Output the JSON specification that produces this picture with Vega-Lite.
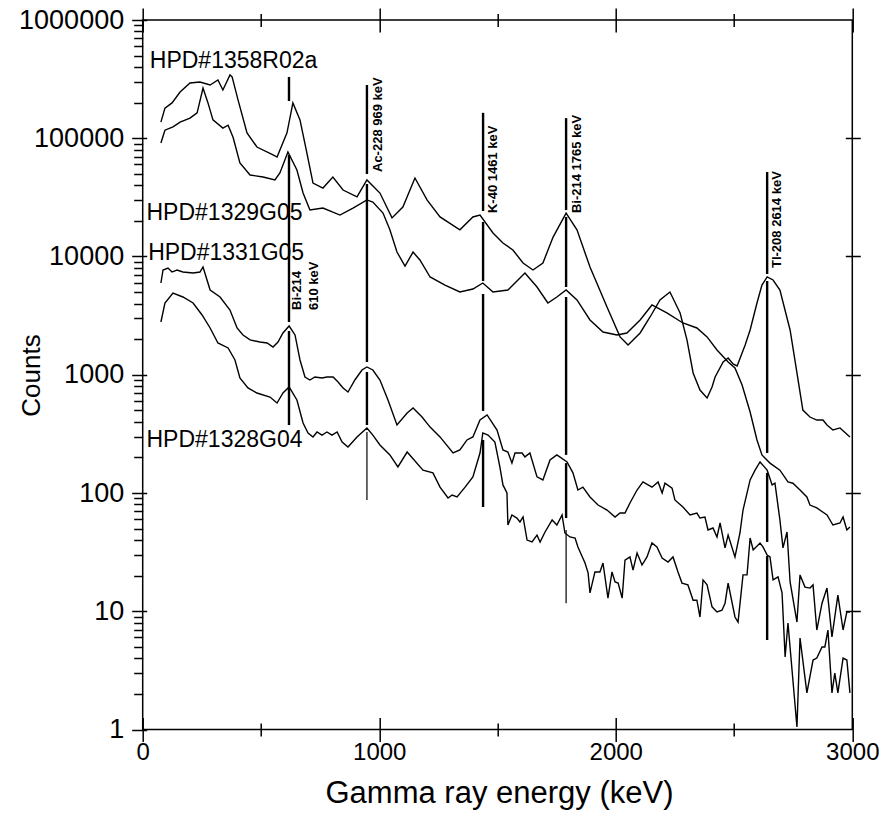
{
  "$schema": "https://vega.github.io/schema/vega-lite/v6.json",
  "width": 709.6,
  "height": 709.5,
  "autosize": {"type": "none"},
  "padding": {"left": 142.7, "top": 20, "right": 40.7, "bottom": 87.5},
  "background": "white",
  "config": {
    "view": {"stroke": "black", "strokeWidth": 1.5},
    "axis": {"domain": false, "grid": false, "tickColor": "black", "tickWidth": 1.5, "labelColor": "black", "titleColor": "black", "labelFlush": false, "labelOverlap": false}
  },
  "datasets": {
    "spectra": [
      {"series":"HPD#1358R02a","energy":77,"counts":137000},{"series":"HPD#1358R02a","energy":94,"counts":180000},{"series":"HPD#1358R02a","energy":124,"counts":199000},{"series":"HPD#1358R02a","energy":158,"counts":246000},{"series":"HPD#1358R02a","energy":200,"counts":293000},{"series":"HPD#1358R02a","energy":242,"counts":299000},{"series":"HPD#1358R02a","energy":285,"counts":282000},{"series":"HPD#1358R02a","energy":318,"counts":311000},{"series":"HPD#1358R02a","energy":339,"counts":256000},{"series":"HPD#1358R02a","energy":369,"counts":343000},{"series":"HPD#1358R02a","energy":378,"counts":330000},{"series":"HPD#1358R02a","energy":403,"counts":211000},{"series":"HPD#1358R02a","energy":441,"counts":111000},{"series":"HPD#1358R02a","energy":483,"counts":84300},{"series":"HPD#1358R02a","energy":551,"counts":72200},{"series":"HPD#1358R02a","energy":568,"counts":69400},{"series":"HPD#1358R02a","energy":610,"counts":111000},{"series":"HPD#1358R02a","energy":635,"counts":199000},{"series":"HPD#1358R02a","energy":665,"counts":143000},{"series":"HPD#1358R02a","energy":694,"counts":75100},{"series":"HPD#1358R02a","energy":720,"counts":41800},{"series":"HPD#1358R02a","energy":762,"counts":37900},{"series":"HPD#1358R02a","energy":804,"counts":47000},{"series":"HPD#1358R02a","energy":847,"counts":36500},{"series":"HPD#1358R02a","energy":906,"counts":31900},{"series":"HPD#1358R02a","energy":948,"counts":44400},{"series":"HPD#1358R02a","energy":1003,"counts":34400},{"series":"HPD#1358R02a","energy":1054,"counts":21200},{"series":"HPD#1358R02a","energy":1100,"counts":26200},{"series":"HPD#1358R02a","energy":1151,"counts":46100},{"series":"HPD#1358R02a","energy":1202,"counts":30100},{"series":"HPD#1358R02a","energy":1257,"counts":21600},{"series":"HPD#1358R02a","energy":1341,"counts":16800},{"series":"HPD#1358R02a","energy":1396,"counts":21600},{"series":"HPD#1358R02a","energy":1426,"counts":22400},{"series":"HPD#1358R02a","energy":1481,"counts":15800},{"series":"HPD#1358R02a","energy":1523,"counts":13000},{"series":"HPD#1358R02a","energy":1565,"counts":11350},{"series":"HPD#1358R02a","energy":1608,"counts":8810},{"series":"HPD#1358R02a","energy":1650,"counts":7690},{"series":"HPD#1358R02a","energy":1692,"counts":8810},{"series":"HPD#1358R02a","energy":1735,"counts":14600},{"series":"HPD#1358R02a","energy":1790,"counts":23300},{"series":"HPD#1358R02a","energy":1836,"counts":16800},{"series":"HPD#1358R02a","energy":1891,"counts":8150},{"series":"HPD#1358R02a","energy":1963,"counts":3740},{"series":"HPD#1358R02a","energy":2018,"counts":2090},{"series":"HPD#1358R02a","energy":2052,"counts":1785},{"series":"HPD#1358R02a","energy":2103,"counts":2255},{"series":"HPD#1358R02a","energy":2145,"counts":3080},{"series":"HPD#1358R02a","energy":2187,"counts":4290},{"series":"HPD#1358R02a","energy":2229,"counts":5010},{"series":"HPD#1358R02a","energy":2272,"counts":3330},{"series":"HPD#1358R02a","energy":2301,"counts":1970},{"series":"HPD#1358R02a","energy":2327,"counts":1035},{"series":"HPD#1358R02a","energy":2356,"counts":743},{"series":"HPD#1358R02a","energy":2386,"counts":636},{"series":"HPD#1358R02a","energy":2407,"counts":788},{"series":"HPD#1358R02a","energy":2420,"counts":957},{"series":"HPD#1358R02a","energy":2454,"counts":1282},{"series":"HPD#1358R02a","energy":2475,"counts":1386},{"series":"HPD#1358R02a","energy":2496,"counts":1233},{"series":"HPD#1358R02a","energy":2513,"counts":1186},{"series":"HPD#1358R02a","energy":2547,"counts":1785},{"series":"HPD#1358R02a","energy":2568,"counts":2390},{"series":"HPD#1358R02a","energy":2597,"counts":4045},{"series":"HPD#1358R02a","energy":2618,"counts":5740},{"series":"HPD#1358R02a","energy":2640,"counts":6710},{"series":"HPD#1358R02a","energy":2665,"counts":6330},{"series":"HPD#1358R02a","energy":2694,"counts":5210},{"series":"HPD#1358R02a","energy":2737,"counts":2390},{"series":"HPD#1358R02a","energy":2766,"counts":1035},{"series":"HPD#1358R02a","energy":2791,"counts":503},{"series":"HPD#1358R02a","energy":2821,"counts":439},{"series":"HPD#1358R02a","energy":2850,"counts":414},{"series":"HPD#1358R02a","energy":2876,"counts":414},{"series":"HPD#1358R02a","energy":2893,"counts":376},{"series":"HPD#1358R02a","energy":2918,"counts":341},{"series":"HPD#1358R02a","energy":2948,"counts":355},{"series":"HPD#1358R02a","energy":2990,"counts":298},
      {"series":"HPD#1329G05","energy":77,"counts":91200},{"series":"HPD#1329G05","energy":94,"counts":117000},{"series":"HPD#1329G05","energy":115,"counts":122000},{"series":"HPD#1329G05","energy":128,"counts":125000},{"series":"HPD#1329G05","energy":158,"counts":137000},{"series":"HPD#1329G05","energy":200,"counts":148000},{"series":"HPD#1329G05","energy":230,"counts":164000},{"series":"HPD#1329G05","energy":255,"counts":266000},{"series":"HPD#1329G05","energy":276,"counts":199000},{"series":"HPD#1329G05","energy":297,"counts":143000},{"series":"HPD#1329G05","energy":339,"counts":122000},{"series":"HPD#1329G05","energy":361,"counts":129000},{"series":"HPD#1329G05","energy":382,"counts":102000},{"series":"HPD#1329G05","energy":411,"counts":61800},{"series":"HPD#1329G05","energy":454,"counts":48900},{"series":"HPD#1329G05","energy":509,"counts":47000},{"series":"HPD#1329G05","energy":559,"counts":44400},{"series":"HPD#1329G05","energy":580,"counts":50800},{"series":"HPD#1329G05","energy":614,"counts":76500},{"series":"HPD#1329G05","energy":652,"counts":53900},{"series":"HPD#1329G05","energy":678,"counts":34400},{"series":"HPD#1329G05","energy":707,"counts":24700},{"series":"HPD#1329G05","energy":762,"counts":25700},{"series":"HPD#1329G05","energy":834,"counts":22400},{"series":"HPD#1329G05","energy":889,"counts":25700},{"series":"HPD#1329G05","energy":948,"counts":30100},{"series":"HPD#1329G05","energy":973,"counts":28900},{"series":"HPD#1329G05","energy":1016,"counts":23300},{"series":"HPD#1329G05","energy":1045,"counts":16800},{"series":"HPD#1329G05","energy":1075,"counts":10900},{"series":"HPD#1329G05","energy":1109,"counts":8310},{"series":"HPD#1329G05","energy":1143,"counts":10900},{"series":"HPD#1329G05","energy":1172,"counts":9340},{"series":"HPD#1329G05","energy":1215,"counts":6710},{"series":"HPD#1329G05","energy":1278,"counts":5740},{"series":"HPD#1329G05","energy":1341,"counts":5010},{"series":"HPD#1329G05","energy":1396,"counts":5310},{"series":"HPD#1329G05","energy":1438,"counts":5970},{"series":"HPD#1329G05","energy":1481,"counts":5010},{"series":"HPD#1329G05","energy":1544,"counts":5210},{"series":"HPD#1329G05","energy":1616,"counts":7250},{"series":"HPD#1329G05","energy":1667,"counts":5520},{"series":"HPD#1329G05","energy":1713,"counts":4045},{"series":"HPD#1329G05","energy":1751,"counts":4545},{"series":"HPD#1329G05","energy":1790,"counts":5210},{"series":"HPD#1329G05","energy":1836,"counts":4290},{"series":"HPD#1329G05","energy":1891,"counts":2904},{"series":"HPD#1329G05","energy":1946,"counts":2298},{"series":"HPD#1329G05","energy":2005,"counts":2170},{"series":"HPD#1329G05","energy":2047,"counts":2255},{"series":"HPD#1329G05","energy":2103,"counts":2904},{"series":"HPD#1329G05","energy":2153,"counts":3890},{"series":"HPD#1329G05","energy":2216,"counts":3330},{"series":"HPD#1329G05","energy":2284,"counts":2740},{"series":"HPD#1329G05","energy":2343,"counts":2486},{"series":"HPD#1329G05","energy":2386,"counts":2090},{"series":"HPD#1329G05","energy":2428,"counts":1619},{"series":"HPD#1329G05","energy":2475,"counts":1282},{"series":"HPD#1329G05","energy":2504,"counts":1140},{"series":"HPD#1329G05","energy":2534,"counts":819},{"series":"HPD#1329G05","energy":2568,"counts":484},{"series":"HPD#1329G05","energy":2597,"counts":281},{"series":"HPD#1329G05","energy":2618,"counts":210},{"series":"HPD#1329G05","energy":2652,"counts":179},{"series":"HPD#1329G05","energy":2694,"counts":156},{"series":"HPD#1329G05","energy":2728,"counts":124},{"series":"HPD#1329G05","energy":2749,"counts":121},{"series":"HPD#1329G05","energy":2779,"counts":106},{"series":"HPD#1329G05","energy":2808,"counts":92.5},{"series":"HPD#1329G05","energy":2821,"counts":79.1},{"series":"HPD#1329G05","energy":2850,"counts":74.7},{"series":"HPD#1329G05","energy":2893,"counts":65.2},{"series":"HPD#1329G05","energy":2918,"counts":53.6},{"series":"HPD#1329G05","energy":2948,"counts":55.8},{"series":"HPD#1329G05","energy":2961,"counts":62.7},{"series":"HPD#1329G05","energy":2977,"counts":48.7},{"series":"HPD#1329G05","energy":2990,"counts":51.6},
      {"series":"HPD#1331G05","energy":77,"counts":5970},{"series":"HPD#1331G05","energy":86,"counts":7690},{"series":"HPD#1331G05","energy":107,"counts":7990},{"series":"HPD#1331G05","energy":124,"counts":7390},{"series":"HPD#1331G05","energy":145,"counts":7690},{"series":"HPD#1331G05","energy":170,"counts":7390},{"series":"HPD#1331G05","energy":213,"counts":7250},{"series":"HPD#1331G05","energy":242,"counts":7390},{"series":"HPD#1331G05","energy":255,"counts":8150},{"series":"HPD#1331G05","energy":285,"counts":5210},{"series":"HPD#1331G05","energy":327,"counts":4545},{"series":"HPD#1331G05","energy":369,"counts":3530},{"series":"HPD#1331G05","energy":399,"counts":2486},{"series":"HPD#1331G05","energy":424,"counts":2170},{"series":"HPD#1331G05","energy":454,"counts":1970},{"series":"HPD#1331G05","energy":496,"counts":1892},{"series":"HPD#1331G05","energy":526,"counts":1856},{"series":"HPD#1331G05","energy":551,"counts":1717},{"series":"HPD#1331G05","energy":572,"counts":1892},{"series":"HPD#1331G05","energy":593,"counts":2255},{"series":"HPD#1331G05","energy":619,"counts":2584},{"series":"HPD#1331G05","energy":644,"counts":2170},{"series":"HPD#1331G05","energy":665,"counts":1333},{"series":"HPD#1331G05","energy":686,"counts":957},{"series":"HPD#1331G05","energy":707,"counts":903},{"series":"HPD#1331G05","energy":728,"counts":957},{"series":"HPD#1331G05","energy":758,"counts":939},{"series":"HPD#1331G05","energy":779,"counts":957},{"series":"HPD#1331G05","energy":805,"counts":957},{"series":"HPD#1331G05","energy":826,"counts":868},{"series":"HPD#1331G05","energy":847,"counts":773},{"series":"HPD#1331G05","energy":868,"counts":715},{"series":"HPD#1331G05","energy":897,"counts":903},{"series":"HPD#1331G05","energy":927,"counts":1097},{"series":"HPD#1331G05","energy":948,"counts":1163},{"series":"HPD#1331G05","energy":973,"counts":1097},{"series":"HPD#1331G05","energy":1003,"counts":903},{"series":"HPD#1331G05","energy":1037,"counts":612},{"series":"HPD#1331G05","energy":1075,"counts":376},{"series":"HPD#1331G05","energy":1118,"counts":475},{"series":"HPD#1331G05","energy":1143,"counts":523},{"series":"HPD#1331G05","energy":1181,"counts":439},{"series":"HPD#1331G05","energy":1215,"counts":361},{"series":"HPD#1331G05","energy":1257,"counts":298},{"series":"HPD#1331G05","energy":1312,"counts":218},{"series":"HPD#1331G05","energy":1341,"counts":231},{"series":"HPD#1331G05","energy":1371,"counts":281},{"series":"HPD#1331G05","energy":1396,"counts":298},{"series":"HPD#1331G05","energy":1426,"counts":414},{"series":"HPD#1331G05","energy":1456,"counts":457},{"series":"HPD#1331G05","energy":1498,"counts":341},{"series":"HPD#1331G05","energy":1523,"counts":231},{"series":"HPD#1331G05","energy":1544,"counts":222},{"series":"HPD#1331G05","energy":1561,"counts":179},{"series":"HPD#1331G05","energy":1574,"counts":218},{"series":"HPD#1331G05","energy":1604,"counts":218},{"series":"HPD#1331G05","energy":1616,"counts":202},{"series":"HPD#1331G05","energy":1637,"counts":218},{"series":"HPD#1331G05","energy":1667,"counts":137},{"series":"HPD#1331G05","energy":1692,"counts":129},{"series":"HPD#1331G05","energy":1722,"counts":190},{"series":"HPD#1331G05","energy":1751,"counts":210},{"series":"HPD#1331G05","energy":1794,"counts":183},{"series":"HPD#1331G05","energy":1819,"counts":148},{"series":"HPD#1331G05","energy":1840,"counts":106},{"series":"HPD#1331G05","energy":1861,"counts":112},{"series":"HPD#1331G05","energy":1891,"counts":92.5},{"series":"HPD#1331G05","energy":1925,"counts":79.1},{"series":"HPD#1331G05","energy":1963,"counts":71.8},{"series":"HPD#1331G05","energy":1997,"counts":62.7},{"series":"HPD#1331G05","energy":2018,"counts":67.7},{"series":"HPD#1331G05","energy":2039,"counts":67.7},{"series":"HPD#1331G05","energy":2060,"counts":82.3},{"series":"HPD#1331G05","energy":2090,"counts":106},{"series":"HPD#1331G05","energy":2115,"counts":124},{"series":"HPD#1331G05","energy":2153,"counts":112},{"series":"HPD#1331G05","energy":2179,"counts":124},{"series":"HPD#1331G05","energy":2196,"counts":100},{"series":"HPD#1331G05","energy":2208,"counts":121},{"series":"HPD#1331G05","energy":2238,"counts":110},{"series":"HPD#1331G05","energy":2250,"counts":87.3},{"series":"HPD#1331G05","energy":2284,"counts":76.1},{"series":"HPD#1331G05","energy":2314,"counts":65.2},{"series":"HPD#1331G05","energy":2343,"counts":67.7},{"series":"HPD#1331G05","energy":2356,"counts":61.4},{"series":"HPD#1331G05","energy":2377,"counts":62.7},{"series":"HPD#1331G05","energy":2390,"counts":48.7},{"series":"HPD#1331G05","energy":2411,"counts":50.6},{"series":"HPD#1331G05","energy":2428,"counts":42.5},{"series":"HPD#1331G05","energy":2441,"counts":55.8},{"series":"HPD#1331G05","energy":2462,"counts":34.3},{"series":"HPD#1331G05","energy":2475,"counts":44.1},{"series":"HPD#1331G05","energy":2504,"counts":28.8},{"series":"HPD#1331G05","energy":2525,"counts":45.9},{"series":"HPD#1331G05","energy":2538,"counts":71.8},{"series":"HPD#1331G05","energy":2568,"counts":129},{"series":"HPD#1331G05","energy":2589,"counts":156},{"series":"HPD#1331G05","energy":2610,"counts":183},{"series":"HPD#1331G05","energy":2640,"counts":156},{"series":"HPD#1331G05","energy":2661,"counts":117},{"series":"HPD#1331G05","energy":2673,"counts":121},{"series":"HPD#1331G05","energy":2694,"counts":59.1},{"series":"HPD#1331G05","energy":2707,"counts":34.3},{"series":"HPD#1331G05","energy":2724,"counts":46.8},{"series":"HPD#1331G05","energy":2737,"counts":17.7},{"series":"HPD#1331G05","energy":2766,"counts":8.11},{"series":"HPD#1331G05","energy":2779,"counts":20.3},{"series":"HPD#1331G05","energy":2800,"counts":16.0},{"series":"HPD#1331G05","energy":2821,"counts":15.7},{"series":"HPD#1331G05","energy":2834,"counts":16.7},{"series":"HPD#1331G05","energy":2850,"counts":6.94},{"series":"HPD#1331G05","energy":2872,"counts":11.7},{"series":"HPD#1331G05","energy":2893,"counts":15.7},{"series":"HPD#1331G05","energy":2914,"counts":6.06},{"series":"HPD#1331G05","energy":2939,"counts":13.7},{"series":"HPD#1331G05","energy":2961,"counts":6.94},{"series":"HPD#1331G05","energy":2977,"counts":9.86},{"series":"HPD#1331G05","energy":2990,"counts":9.86},
      {"series":"HPD#1328G04","energy":77,"counts":2793},{"series":"HPD#1328G04","energy":94,"counts":4045},{"series":"HPD#1328G04","energy":128,"counts":4913},{"series":"HPD#1328G04","energy":170,"counts":4545},{"series":"HPD#1328G04","energy":213,"counts":4045},{"series":"HPD#1328G04","energy":251,"counts":3203},{"series":"HPD#1328G04","energy":285,"counts":2486},{"series":"HPD#1328G04","energy":318,"counts":1856},{"series":"HPD#1328G04","energy":361,"counts":1684},{"series":"HPD#1328G04","energy":390,"counts":1333},{"series":"HPD#1328G04","energy":411,"counts":939},{"series":"HPD#1328G04","energy":445,"counts":773},{"series":"HPD#1328G04","energy":483,"counts":701},{"series":"HPD#1328G04","energy":538,"counts":648},{"series":"HPD#1328G04","energy":568,"counts":577},{"series":"HPD#1328G04","energy":593,"counts":701},{"series":"HPD#1328G04","energy":619,"counts":788},{"series":"HPD#1328G04","energy":652,"counts":612},{"series":"HPD#1328G04","energy":678,"counts":391},{"series":"HPD#1328G04","energy":699,"counts":322},{"series":"HPD#1328G04","energy":720,"counts":298},{"series":"HPD#1328G04","energy":737,"counts":328},{"series":"HPD#1328G04","energy":758,"counts":309},{"series":"HPD#1328G04","energy":779,"counts":328},{"series":"HPD#1328G04","energy":800,"counts":309},{"series":"HPD#1328G04","energy":822,"counts":328},{"series":"HPD#1328G04","energy":843,"counts":270},{"series":"HPD#1328G04","energy":868,"counts":245},{"series":"HPD#1328G04","energy":906,"counts":298},{"series":"HPD#1328G04","energy":948,"counts":355},{"series":"HPD#1328G04","energy":973,"counts":309},{"series":"HPD#1328G04","energy":1003,"counts":255},{"series":"HPD#1328G04","energy":1045,"counts":210},{"series":"HPD#1328G04","energy":1079,"counts":166},{"series":"HPD#1328G04","energy":1118,"counts":222},{"series":"HPD#1328G04","energy":1185,"counts":156},{"series":"HPD#1328G04","energy":1227,"counts":148},{"series":"HPD#1328G04","energy":1257,"counts":112},{"series":"HPD#1328G04","energy":1291,"counts":90.7},{"series":"HPD#1328G04","energy":1308,"counts":96.2},{"series":"HPD#1328G04","energy":1329,"counts":92.5},{"series":"HPD#1328G04","energy":1363,"counts":112},{"series":"HPD#1328G04","energy":1396,"counts":137},{"series":"HPD#1328G04","energy":1426,"counts":218},{"series":"HPD#1328G04","energy":1438,"counts":322},{"series":"HPD#1328G04","energy":1460,"counts":309},{"series":"HPD#1328G04","energy":1489,"counts":270},{"series":"HPD#1328G04","energy":1510,"counts":166},{"series":"HPD#1328G04","energy":1523,"counts":117},{"series":"HPD#1328G04","energy":1540,"counts":100},{"series":"HPD#1328G04","energy":1544,"counts":53.6},{"series":"HPD#1328G04","energy":1561,"counts":65.2},{"series":"HPD#1328G04","energy":1582,"counts":61.4},{"series":"HPD#1328G04","energy":1595,"counts":56.9},{"series":"HPD#1328G04","energy":1608,"counts":62.7},{"series":"HPD#1328G04","energy":1625,"counts":40.0},{"series":"HPD#1328G04","energy":1646,"counts":38.5},{"series":"HPD#1328G04","energy":1667,"counts":44.1},{"series":"HPD#1328G04","energy":1680,"counts":38.5},{"series":"HPD#1328G04","energy":1701,"counts":46.8},{"series":"HPD#1328G04","energy":1731,"counts":59.1},{"series":"HPD#1328G04","energy":1751,"counts":53.6},{"series":"HPD#1328G04","energy":1773,"counts":65.2},{"series":"HPD#1328G04","energy":1785,"counts":45.9},{"series":"HPD#1328G04","energy":1806,"counts":42.5},{"series":"HPD#1328G04","energy":1828,"counts":41.6},{"series":"HPD#1328G04","energy":1840,"counts":34.9},{"series":"HPD#1328G04","energy":1870,"counts":25.6},{"series":"HPD#1328G04","energy":1883,"counts":21.1},{"series":"HPD#1328G04","energy":1891,"counts":14.3},{"series":"HPD#1328G04","energy":1912,"counts":21.5},{"series":"HPD#1328G04","energy":1933,"counts":21.5},{"series":"HPD#1328G04","energy":1946,"counts":25.6},{"series":"HPD#1328G04","energy":1967,"counts":12.9},{"series":"HPD#1328G04","energy":1984,"counts":21.5},{"series":"HPD#1328G04","energy":1997,"counts":17.7},{"series":"HPD#1328G04","energy":2010,"counts":17.3},{"series":"HPD#1328G04","energy":2027,"counts":12.9},{"series":"HPD#1328G04","energy":2039,"counts":27.1},{"series":"HPD#1328G04","energy":2060,"counts":28.8},{"series":"HPD#1328G04","energy":2073,"counts":22.3},{"series":"HPD#1328G04","energy":2090,"counts":31.1},{"series":"HPD#1328G04","energy":2111,"counts":24.6},{"series":"HPD#1328G04","energy":2132,"counts":28.8},{"series":"HPD#1328G04","energy":2153,"counts":37.8},{"series":"HPD#1328G04","energy":2174,"counts":34.9},{"series":"HPD#1328G04","energy":2196,"counts":28.2},{"series":"HPD#1328G04","energy":2221,"counts":26.1},{"series":"HPD#1328G04","energy":2242,"counts":28.8},{"series":"HPD#1328G04","energy":2263,"counts":21.5},{"series":"HPD#1328G04","energy":2280,"counts":17.3},{"series":"HPD#1328G04","energy":2305,"counts":16.7},{"series":"HPD#1328G04","energy":2327,"counts":12.4},{"series":"HPD#1328G04","energy":2343,"counts":12.4},{"series":"HPD#1328G04","energy":2356,"counts":8.94},{"series":"HPD#1328G04","energy":2369,"counts":18.4},{"series":"HPD#1328G04","energy":2386,"counts":16.7},{"series":"HPD#1328G04","energy":2407,"counts":10.9},{"series":"HPD#1328G04","energy":2428,"counts":9.86},{"series":"HPD#1328G04","energy":2449,"counts":10.2},{"series":"HPD#1328G04","energy":2462,"counts":11.7},{"series":"HPD#1328G04","energy":2475,"counts":17.3},{"series":"HPD#1328G04","energy":2504,"counts":8.94},{"series":"HPD#1328G04","energy":2517,"counts":8.11},{"series":"HPD#1328G04","energy":2538,"counts":20.3},{"series":"HPD#1328G04","energy":2555,"counts":20.3},{"series":"HPD#1328G04","energy":2568,"counts":41.6},{"series":"HPD#1328G04","energy":2581,"counts":33.0},{"series":"HPD#1328G04","energy":2610,"counts":37.8},{"series":"HPD#1328G04","energy":2623,"counts":34.9},{"series":"HPD#1328G04","energy":2640,"counts":29.9},{"series":"HPD#1328G04","energy":2652,"counts":28.8},{"series":"HPD#1328G04","energy":2665,"counts":18.4},{"series":"HPD#1328G04","energy":2686,"counts":19.5},{"series":"HPD#1328G04","energy":2703,"counts":14.3},{"series":"HPD#1328G04","energy":2716,"counts":4.10},{"series":"HPD#1328G04","energy":2728,"counts":7.95},{"series":"HPD#1328G04","energy":2766,"counts":1.05},{"series":"HPD#1328G04","energy":2779,"counts":5.94},{"series":"HPD#1328G04","energy":2808,"counts":2.04},{"series":"HPD#1328G04","energy":2834,"counts":3.87},{"series":"HPD#1328G04","energy":2850,"counts":4.02},{"series":"HPD#1328G04","energy":2872,"counts":4.99},{"series":"HPD#1328G04","energy":2884,"counts":4.99},{"series":"HPD#1328G04","energy":2897,"counts":6.94},{"series":"HPD#1328G04","energy":2914,"counts":2.04},{"series":"HPD#1328G04","energy":2926,"counts":3.00},{"series":"HPD#1328G04","energy":2939,"counts":2.04},{"series":"HPD#1328G04","energy":2961,"counts":4.02},{"series":"HPD#1328G04","energy":2977,"counts":3.87},{"series":"HPD#1328G04","energy":2990,"counts":2.04}
    ],
    "markers": [
      {"peak":"Bi-214 610","energy":618.5,"top":330000,"bottom":206500},
      {"peak":"Bi-214 610","energy":618.5,"top":72200,"bottom":2793},
      {"peak":"Bi-214 610","energy":618.5,"top":2344,"bottom":376},
      {"peak":"Ac-228 969","energy":948,"top":282000,"bottom":49840},
      {"peak":"Ac-228 969","energy":948,"top":41040,"bottom":1282},
      {"peak":"Ac-228 969","energy":948,"top":1055,"bottom":376},
      {"peak":"K-40 1461","energy":1439,"top":164000,"bottom":24250},
      {"peak":"K-40 1461","energy":1439,"top":19580,"bottom":6206},
      {"peak":"K-40 1461","energy":1439,"top":4819,"bottom":494},
      {"peak":"K-40 1461","energy":1439,"top":281,"bottom":76.1},
      {"peak":"Bi-214 1765","energy":1790,"top":148000,"bottom":24700},
      {"peak":"Bi-214 1765","energy":1790,"top":21600,"bottom":5520},
      {"peak":"Bi-214 1765","energy":1790,"top":4545,"bottom":210},
      {"peak":"Bi-214 1765","energy":1790,"top":179,"bottom":61.4},
      {"peak":"Tl-208 2614","energy":2640,"top":51830,"bottom":7112},
      {"peak":"Tl-208 2614","energy":2640,"top":6206,"bottom":218},
      {"peak":"Tl-208 2614","energy":2640,"top":148,"bottom":38.5},
      {"peak":"Tl-208 2614","energy":2640,"top":29.3,"bottom":5.71}
    ],
    "markerTails": [
      {"peak":"Ac-228 969","energy":948,"top":328,"bottom":87.3},
      {"peak":"Bi-214 1765","energy":1790,"top":48.7,"bottom":11.7}
    ],
    "peakLabels": [
      {"label":"Bi-214","energy":654,"counts":3530},
      {"label":"610 keV","energy":724,"counts":3530},
      {"label":"Ac-228 969 keV","energy":995,"counts":51830},
      {"label":"K-40 1461 keV","energy":1479,"counts":23300},
      {"label":"Bi-214 1765 keV","energy":1838,"counts":23300},
      {"label":"Tl-208 2614 keV","energy":2680,"counts":7990}
    ],
    "seriesLabels": [
      {"label":"HPD#1358R02a","energy":30,"counts":390600},
      {"label":"HPD#1329G05","energy":16,"counts":20360},
      {"label":"HPD#1331G05","energy":23,"counts":9340},
      {"label":"HPD#1328G04","energy":16,"counts":246}
    ]
  },
  "layer": [
    {
      "data": {"name": "markers"},
      "mark": {"type": "rule", "strokeWidth": 2.4, "color": "black"},
      "encoding": {
        "x": {"field": "energy", "type": "quantitative",
          "scale": {"domain": [0, 3000], "nice": false, "zero": false},
          "axis": {"orient": "bottom", "values": [0, 1000, 2000, 3000], "offset": -12, "tickSize": 24, "format": "d",
            "labelFont": "Liberation Sans", "labelFontSize": 24, "labelPadding": -1,
            "title": "Gamma ray energy (keV)", "titleFont": "Liberation Sans",
            "titleFontSize": 31, "titleFontWeight": "normal", "titleX": 356.3, "titleY": 84.5, "titleAlign": "center", "titleBaseline": "alphabetic", "titleAngle": 0}},
        "y": {"field": "top", "type": "quantitative",
          "scale": {"type": "log", "domain": [1, 1000000], "nice": false},
          "axis": {"orient": "left", "values": [1, 10, 100, 1000, 10000, 100000, 1000000], "offset": -4, "tickSize": 15,
            "format": "d", "labelFont": "Liberation Sans", "labelFontSize": 27, "labelPadding": 8, "title": null}},
        "y2": {"field": "bottom"}
      }
    },
    {
      "data": {"name": "markerTails"},
      "mark": {"type": "rule", "strokeWidth": 1.2, "color": "black"},
      "encoding": {
        "x": {"field": "energy", "type": "quantitative",
          "axis": {"orient": "bottom", "values": [500, 1500, 2500], "offset": -6.5, "tickSize": 13, "labels": false, "title": null}},
        "y": {"field": "top", "type": "quantitative",
          "axis": {"orient": "left", "values": [2,3,4,5,6,7,8,9,20,30,40,50,60,70,80,90,200,300,400,500,600,700,800,900,2000,3000,4000,5000,6000,7000,8000,9000,20000,30000,40000,50000,60000,70000,80000,90000,200000,300000,400000,500000,600000,700000,800000,900000],
            "tickSize": 9, "labels": false, "title": "Counts",
            "titleFont": "Liberation Sans", "titleFontSize": 26, "titleFontWeight": "normal",
            "titleAngle": 270, "titleX": -111.7, "titleY": 355, "titleAlign": "center", "titleBaseline": "middle"}},
        "y2": {"field": "bottom"}
      }
    },
    {
      "data": {"name": "spectra"},
      "mark": {"type": "line", "strokeWidth": 1.4, "color": "black", "interpolate": "linear"},
      "encoding": {
        "x": {"field": "energy", "type": "quantitative",
          "axis": {"orient": "top", "values": [0, 1000, 2000, 3000], "offset": -12, "tickSize": 24, "labels": false, "title": null}},
        "y": {"field": "counts", "type": "quantitative",
          "axis": {"orient": "right", "values": [10, 100, 1000, 10000, 100000], "offset": -7, "tickSize": 15, "labels": false, "title": null}},
        "detail": {"field": "series", "type": "nominal"},
        "order": {"field": "energy", "type": "quantitative"}
      }
    },
    {
      "data": {"name": "peakLabels"},
      "mark": {"type": "text", "angle": 270, "align": "left", "baseline": "middle", "font": "Liberation Sans", "fontSize": 13, "fontWeight": "bold", "color": "black"},
      "encoding": {
        "x": {"field": "energy", "type": "quantitative",
          "axis": {"orient": "top", "values": [500, 1500, 2500], "offset": -6.5, "tickSize": 13, "labels": false, "title": null}},
        "y": {"field": "counts", "type": "quantitative", "axis": null},
        "text": {"field": "label"}
      }
    },
    {
      "data": {"name": "seriesLabels"},
      "mark": {"type": "text", "align": "left", "baseline": "alphabetic", "font": "Liberation Sans", "fontSize": 23, "color": "black"},
      "encoding": {
        "x": {"field": "energy", "type": "quantitative", "axis": null},
        "y": {"field": "counts", "type": "quantitative", "axis": null},
        "text": {"field": "label"}
      }
    }
  ],
  "resolve": {"scale": {"x": "shared", "y": "shared"}, "axis": {"x": "independent", "y": "independent"}}
}
